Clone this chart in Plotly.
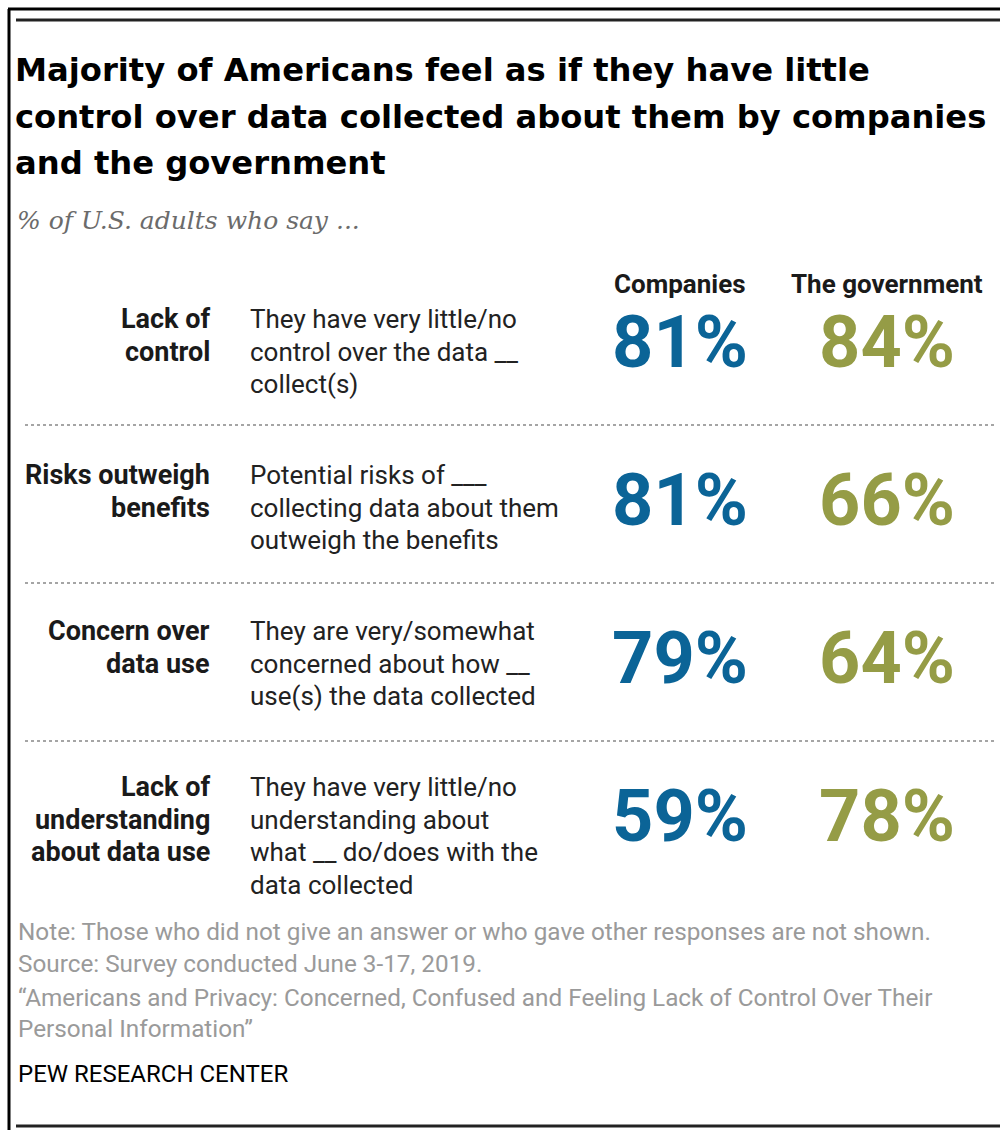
import plotly.graph_objects as go

# ---- data ----
row_labels = [["Lack of", "control"],
              ["Risks outweigh", "benefits"],
              ["Concern over", "data use"],
              ["Lack of", "understanding", "about data use"]]
descriptions = [["They have very little/no", "control over the data __", "collect(s)"],
                ["Potential risks of ___", "collecting data about them", "outweigh the benefits"],
                ["They are very/somewhat", "concerned about how __", "use(s) the data collected"],
                ["They have very little/no", "understanding about", "what __ do/does with the", "data collected"]]
columns = ["Companies", "The government"]
companies = [81, 81, 79, 59]
government = [84, 66, 64, 78]
title_lines = ["Majority of Americans feel as if they have little",
               "control over data collected about them by companies",
               "and the government"]
subtitle = "% of U.S. adults who say ..."
notes = ["Note: Those who did not give an answer or who gave other responses are not shown.",
         "Source: Survey conducted June 3-17, 2019.",
         "\u201cAmericans and Privacy: Concerned, Confused and Feeling Lack of Control Over Their",
         "Personal Information\u201d"]
credit = "PEW RESEARCH CENTER"

# ---- style / layout constants ----
BLUE = "#0b6497"
OLIVE = "#959c46"
GRAY = "#9a9a9a"
FONT = "Roboto"
W, H = 1000, 1130
col_x = [680, 887]
row_top0, row_step = 319, 156
num_y0, num_step = 349, 158
line_h = 32.5

fig = go.Figure()

for vals, cx, color in [(companies, col_x[0], BLUE), (government, col_x[1], OLIVE)]:
    fig.add_trace(go.Scatter(
        x=[cx] * len(vals),
        y=[num_y0 + i * num_step for i in range(len(vals))],
        text=[f"{v}%" for v in vals],
        mode="text",
        textposition="middle center",
        textfont=dict(family=FONT, size=72, color=color, weight="bold"),
        hoverinfo="skip",
        showlegend=False,
    ))

ann = []
def add(text, x, y, size, color="#000", xanchor="left", bold=False, family=FONT, italic=False):
    ann.append(dict(text=text, x=x, y=y, xref="x", yref="y", showarrow=False,
                    xanchor=xanchor, yanchor="middle",
                    font=dict(family=family, size=size, color=color,
                              weight="bold" if bold else "normal",
                              style="italic" if italic else "normal")))

for i, t in enumerate(title_lines):
    add(t, 13, 70 + i * 46.5, 32.2, bold=True, family="DejaVu Sans")
add(subtitle, 15, 220, 25, color="#6b6b6b", family="DejaVu Serif", italic=True)

for cx, c in zip(col_x, columns):
    add(c, cx, 284, 26, color="#1a1a1a", xanchor="center", bold=True)

for i, (lab, desc) in enumerate(zip(row_labels, descriptions)):
    top = row_top0 + i * row_step
    for j, l in enumerate(lab):
        add(l, 212, top + j * line_h, 27, color="#1a1a1a", xanchor="right", bold=True)
    for j, d in enumerate(desc):
        add(d, 248, top + j * line_h, 26, color="#222")

note_y = [931, 963, 997, 1028]
for y, n in zip(note_y, notes):
    add(n, 16, y, 24.3, color=GRAY)
add(credit, 16, 1074, 24, color="#000")

shapes = [
    dict(type="line", x0=8, x1=W, y0=9, y1=9, line=dict(color="#000", width=3)),
    dict(type="line", x0=9, x1=9, y0=9, y1=H, line=dict(color="#000", width=3)),
    dict(type="line", x0=16, x1=W, y0=20, y1=20, line=dict(color="#222", width=3)),
    dict(type="line", x0=16, x1=W, y0=1126, y1=1126, line=dict(color="#222", width=3)),
]
for k in range(len(companies) - 1):
    yd = 425 + k * 158
    shapes.append(dict(type="line", x0=25, x1=995, y0=yd, y1=yd,
                       line=dict(color="#888", width=1.5, dash="dot")))

fig.update_layout(
    width=W, height=H, margin=dict(l=0, r=0, t=0, b=0),
    paper_bgcolor="white", plot_bgcolor="white",
    xaxis=dict(range=[0, W], visible=False, fixedrange=True),
    yaxis=dict(range=[H, 0], visible=False, fixedrange=True),
    annotations=ann, shapes=shapes, showlegend=False,
)
fig.write_html("out.html")
